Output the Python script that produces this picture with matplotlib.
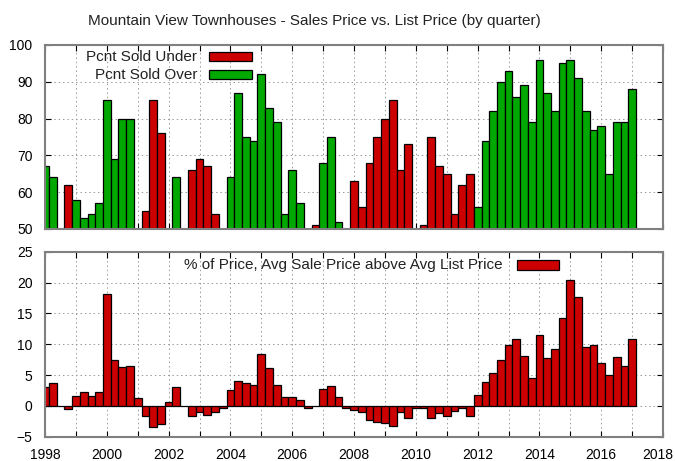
import numpy as np
import matplotlib
matplotlib.use("Agg")
from matplotlib import pyplot as plt
from matplotlib.patches import Rectangle
from matplotlib.transforms import ScaledTranslation

plt.rcParams["font.family"] = ["Liberation Sans", "DejaVu Sans"]
plt.rcParams["font.size"] = 10

# quarters from 1998.0 to 2017.0
quarters = np.arange(77) * 0.25 + 1998.0

# top panel: percent of sales under / over list (only the visible one, >50)
nan = np.nan
pct_under = [
    nan, nan, nan, 62,  nan, nan, nan, nan,   # 1998-1999
    nan, nan, nan, nan, nan, 55, 85, 76,      # 2000-2001
    nan, nan, nan, 66,  69, 67, 54, nan,      # 2002-2003
    nan, nan, nan, nan, nan, nan, nan, nan,   # 2004-2005
    nan, nan, nan, 51,  nan, nan, nan, nan,   # 2006-2007
    63, 56, 68, 75,     80, 85, 66, 73,       # 2008-2009
    nan, 51, 75, 67,    65, 54, 62, 65,       # 2010-2011
] + [nan] * 21
pct_over = [
    67, 64, nan, nan,   58, 53, 54, 57,       # 1998-1999
    85, 69, 80, 80,     nan, nan, nan, nan,   # 2000-2001
    nan, 64, nan, nan,  nan, nan, nan, nan,   # 2002-2003
    64, 87, 75, 74,     92, 83, 79, 54,       # 2004-2005
    66, 57, nan, nan,   68, 75, 52, nan,      # 2006-2007
] + [nan] * 16 + [
    56, 74, 82, 90, 93, 86, 89, 79, 96, 87, 82, 95,
    96, 91, 82, 77, 78, 65, 79, 79, 88,
]

# bottom panel: % avg sale price above avg list price
pct_above = [
    3.0, 3.7, -0.1, -0.5,  1.6, 2.3, 1.6, 2.3,
    18.1, 7.4, 6.3, 6.5,   1.2, -1.6, -3.4, -3.0,
    0.6, 3.0, 0.0, -1.6,   -1.0, -1.4, -1.0, -0.3,
    2.5, 4.0, 3.7, 3.4,    8.4, 6.1, 3.4, 1.5,
    1.5, 0.9, -0.3, -0.1,  2.8, 3.3, 1.5, -0.4,
    -0.7, -1.0, -2.3, -2.6, -2.8, -3.2, -1.0, -1.9,
    -0.3, -0.4, -1.9, -1.2, -1.7, -0.9, -0.4, -1.6,
    1.8, 3.9, 5.3, 7.4,    9.9, 10.9, 8.1, 4.6,
    11.5, 7.8, 9.2, 14.3,  20.4, 17.6, 9.5, 9.8,
    7.0, 5.0, 7.9, 6.5,    10.8,
]

RED = "#cc0000"
GREEN = "#00a800"
FRAME = "#808080"

fig = plt.figure(figsize=(6.75, 4.61), dpi=100)
ax1 = fig.add_axes([0.0667, 0.5033, 0.9156, 0.3991])
ax2 = fig.add_axes([0.0667, 0.0527, 0.9156, 0.4013])


def style_axes(ax):
    for sp in ax.spines.values():
        sp.set_color(FRAME)
        sp.set_linewidth(1.5)
    ax.set_xlim(1998, 2018)
    ax.set_xticks(np.arange(1998, 2019, 2))
    ax.set_xticks(np.arange(1998, 2019, 1), minor=True)
    ax.tick_params(which="both", direction="in", top=True, right=True,
                   length=4, width=0.8, color="black")
    ax.tick_params(axis="y", pad=9)
    ax.tick_params(axis="x", pad=8)
    ax.grid(True, which="both", axis="x", linestyle=(0, (1.5, 3)),
            color="#999999", linewidth=0.7)
    ax.grid(True, which="major", axis="y", linestyle=(0, (1.5, 3)),
            color="#999999", linewidth=0.7)
    ax.set_axisbelow(True)


style_axes(ax1)
ax1.bar(quarters, pct_under, width=0.25, color=RED, edgecolor="black",
        linewidth=0.9)
ax1.bar(quarters, pct_over, width=0.25, color=GREEN, edgecolor="black",
        linewidth=0.9)
ax1.set_ylim(50, 100)
ax1.set_yticks(np.arange(50, 101, 10))
ax1.tick_params(axis="x", labelbottom=False)

style_axes(ax2)
ax2.bar(quarters, pct_above, width=0.25, color=RED, edgecolor="black",
        linewidth=0.9)
ax2.set_ylim(-5, 25)
ax2.set_yticks(np.arange(-5, 26, 5))

# keep "2018" inside the canvas
last = ax2.get_xticklabels()[-1]
last.set_transform(last.get_transform()
                   + ScaledTranslation(-5 / 100, 0, fig.dpi_scale_trans))


# gnuplot-style keys: text right aligned, then a sample box
def key(ax, x_text, y, x0, x1, h, label, color):
    ax.text(x_text, y, label, transform=ax.transAxes, ha="right",
            va="center", fontsize=11, color="#222222")
    ax.add_patch(Rectangle((x0, y - h / 2), x1 - x0, h,
                           transform=ax.transAxes, facecolor=color,
                           edgecolor="black", linewidth=0.9,
                           clip_on=False, zorder=5))


key(ax1, 0.246, 0.935, 0.265, 0.335, 0.049, "Pcnt Sold Under", RED)
key(ax1, 0.246, 0.837, 0.265, 0.335, 0.049, "Pcnt Sold Over", GREEN)
key(ax2, 0.741, 0.928, 0.764, 0.832, 0.049,
    "% of Price, Avg Sale Price above Avg List Price", RED)

fig.text(0.465, 0.955,
         "Mountain View Townhouses - Sales Price vs. List Price (by quarter)",
         ha="center", va="center", fontsize=11, color="#222222")

fig.savefig("out.png", dpi=100)
